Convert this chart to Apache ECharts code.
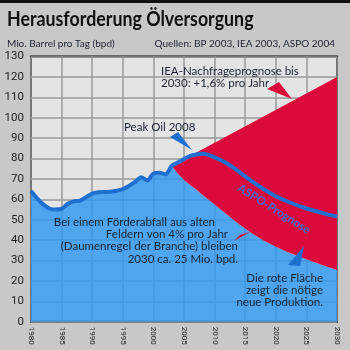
<!DOCTYPE html>
<html>
<head>
<meta charset="utf-8">
<script src="https://cdn.jsdelivr.net/npm/echarts@6/dist/echarts.min.js"></script>
<style>html,body{margin:0;padding:0;background:#c8c8c8;}#c{width:350px;height:350px;}</style>
</head>
<body>
<div id="c"></div>
<script>
// Historical production (BP 2003)
const histYears = [1980,1981,1982,1983,1984,1985,1986,1987,1988,1989,1990,1991,1992,1993,1994,1995,1996,1997,1998,1999,2000,2001,2002,2003];
const histValues = [64,60.5,57.5,55.5,55,55.3,57.8,59,59.3,61,62.8,63.5,63.6,63.7,64.2,65,66.5,68.5,70.8,69.2,72.6,73,72.2,76.5];
// ASPO forecast
const aspoYears = [2004,2005,2006,2007,2008,2009,2010,2012,2014,2016,2018,2020,2022,2025,2028,2030];
const aspoValues = [78,79.8,81.3,82,82.3,81.8,80.6,77.6,73.5,69,65,61.5,58.8,55.5,53,51.5];
// Decline of old fields (4% per year)
const declineYears = [2003,2004,2005,2006,2007,2008,2010,2012,2014,2016,2018,2020,2022,2024,2026,2028,2030];
const declineValues = [76.5,72.5,69.5,67,64.8,62.2,57.5,52.6,47.8,43.5,39.8,36.8,34,31.7,29.5,27.3,25.3];
// IEA demand forecast
const ieaYears = [2003,2030];
const ieaValues = [76.5,120];
// Axis ticks
const xTicks = [1980,1985,1990,1995,2000,2005,2010,2015,2020,2025,2030];
const yTicks = [0,10,20,30,40,50,60,70,80,90,100,110,120,130];

const NARROW = "Roboto,'Liberation Sans',sans-serif";
const SANS = "Lato,'DejaVu Sans Condensed',sans-serif";
const TXT = '#1b2233';
const RED = '#dc0a3c';

const blueArea = histYears.map((y,i)=>[y,histValues[i]])
  .concat(declineYears.slice(1).map((y,i)=>[y,declineValues[i+1]]));
const aspoLine = histYears.map((y,i)=>[y,histValues[i]])
  .concat(aspoYears.map((y,i)=>[y,aspoValues[i]]));

const chart = echarts.init(document.getElementById('c'), null, {renderer:'canvas'});

function txt(x,y,text,align,font){
  return {type:'text', x:x, y:y, z:100,
    style:{text:text, fill:TXT, font:font||('11.5px '+SANS), textAlign:align||'left', textVerticalAlign:'middle'}};
}

chart.setOption({
  animation:false,
  backgroundColor:'#c8c8c8',
  grid:{left:31, right:13, top:56.5, bottom:28.3, show:true, backgroundColor:'#e4e4e4',
        borderColor:'#111', borderWidth:2, containLabel:false, outerBoundsMode:'none'},
  xAxis:{type:'value', min:xTicks[0], max:xTicks[xTicks.length-1], interval:5,
    axisLine:{show:false}, axisTick:{show:false},
    splitLine:{show:true, lineStyle:{color:'#9a9a9a', width:1.5}},
    axisLabel:{rotate:-90, fontSize:8, color:'#222', fontFamily:NARROW, margin:5,
      formatter:v=>xTicks.indexOf(v)>=0?String(v):''}},
  yAxis:{type:'value', min:yTicks[0], max:yTicks[yTicks.length-1], interval:10,
    axisLine:{show:false}, axisTick:{show:false},
    splitLine:{show:true, lineStyle:{color:'#9a9a9a', width:1.5}},
    axisLabel:{fontSize:11.5, color:'#222', fontFamily:NARROW, margin:7,
      formatter:v=>yTicks.indexOf(v)>=0?String(v):''}},
  series:[
    {type:'line', data:blueArea, symbol:'none', z:2, lineStyle:{width:0},
     areaStyle:{color:'rgba(46,152,242,0.82)', opacity:1}},
    {type:'custom', z:3, data:[0], clip:true,
     renderItem:function(params, api){
       const pts = ieaYears.map((y,i)=>api.coord([y,ieaValues[i]]));
       for(let i=declineYears.length-1;i>=0;i--) pts.push(api.coord([declineYears[i],declineValues[i]]));
       return {type:'polygon', shape:{points:pts}, style:{fill:RED}};
     }},
    {type:'line', data:aspoLine, symbol:'none', z:4, smooth:0.25,
     lineStyle:{color:'#1e6fd0', width:4}}
  ],
  graphic:[
    {type:'rect', shape:{x:0,y:0,width:350,height:3}, style:{fill:'#111'}, z:100},
    {type:'text', x:7, y:20, z:100, scaleX:0.89, style:{text:'Herausforderung Ölversorgung', fill:'#111',
      font:'bold 20px '+SANS, textVerticalAlign:'middle'}},
    txt(7,44,'Mio. Barrel pro Tag (bpd)','left','10px '+SANS),
    txt(335,44,'Quellen: BP 2003, IEA 2003, ASPO 2004','right','10px '+SANS),
    txt(161,71.5,'IEA-Nachfrageprognose bis'),
    txt(161,83.5,'2030: +1,6% pro Jahr'),
    {type:'polygon', z:100, shape:{points:[[267,89],[279,82],[292,99]]}, style:{fill:RED}},
    txt(124,127.5,'Peak Oil 2008'),
    {type:'polygon', z:100, shape:{points:[[170,137],[178,132],[192,150]]}, style:{fill:'#1e6fd0'}},
    {type:'text', x:274, y:209, z:100, rotation:-0.56,
      style:{text:'ASPO-Prognose', fill:'#3a6cd0', font:'bold 11.5px '+SANS, textAlign:'center', textVerticalAlign:'middle'}},
    txt(215,222,'Bei einem Förderabfall aus alten','right'),
    txt(228,234,'Feldern von 4% pro Jahr','right'),
    txt(238,246,'(Daumenregel der Branche) bleiben','right'),
    txt(238,259,'2030 ca. 25 Mio. bpd.','right'),
    {type:'polygon', z:100, shape:{points:[[234,241],[240,235],[250,232]]}, style:{fill:RED}},
    {type:'polygon', z:100, shape:{points:[[288,265],[300,266],[304,246]]}, style:{fill:'#1e6fd0'}},
    txt(323,278,'Die rote Fläche','right'),
    txt(323,290,'zeigt die nötige','right'),
    txt(323,302.5,'neue Produktion.','right')
  ]
});
</script>
</body>
</html>
